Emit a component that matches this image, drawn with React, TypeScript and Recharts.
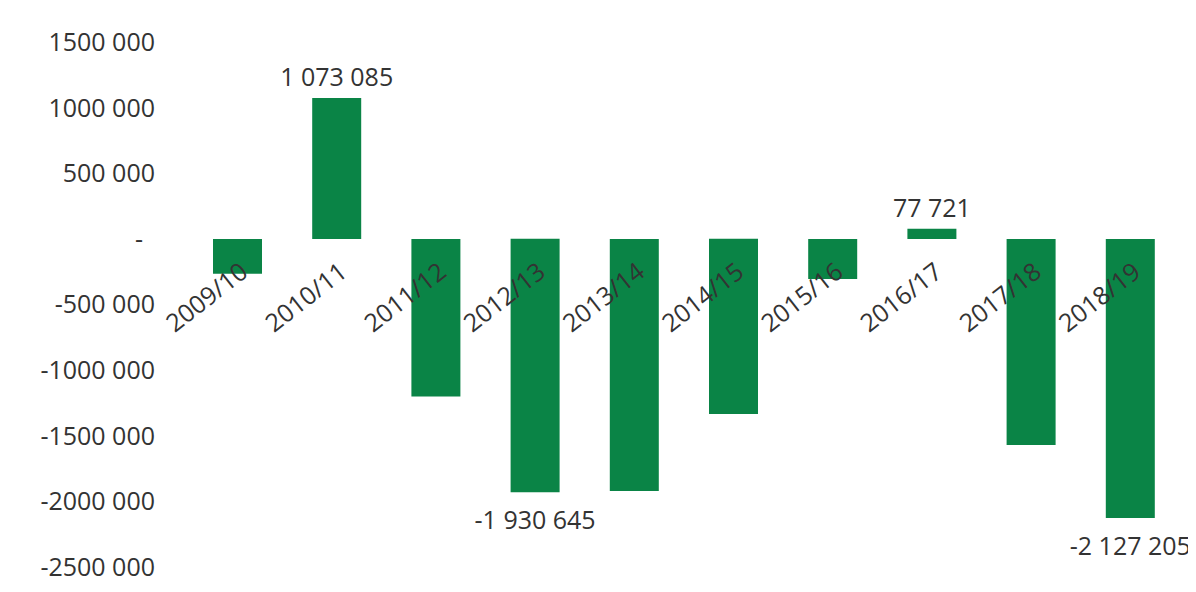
import { Bar, BarChart, Cell, LabelList, YAxis, XAxis } from 'recharts'

const years = ['2009/10', '2010/11', '2011/12', '2012/13', '2013/14', '2014/15', '2015/16', '2016/17', '2017/18', '2018/19']
const balances = [-265000, 1073085, -1200000, -1930645, -1920000, -1335000, -305000, 77721, -1570000, -2127205]
const shownLabels = [false, true, false, true, false, false, false, true, false, true]
const yTicks = [-2500000, -2000000, -1500000, -1000000, -500000, 0, 500000, 1000000, 1500000]

const data = years.map((year, i) => ({
  year,
  value: balances[i],
  show: shownLabels[i],
}))

const GREEN = '#0a8446'
const TEXT = '#333333'
const FONT = '"Open Sans", sans-serif'
const FS = 25

// axis style: 1500 000 (only the last group is split off)
const formatTick = (v: number) => {
  if (v === 0) return '-'
  const sign = v < 0 ? '-' : ''
  const a = Math.abs(v)
  const head = Math.floor(a / 1000)
  const tail = String(a % 1000).padStart(3, '0')
  return `${sign}${head} ${tail}`
}

// label style: 1 073 085
const formatValue = (v: number) => {
  const sign = v < 0 ? '-' : ''
  return sign + String(Math.abs(v)).replace(/\B(?=(\d{3})+(?!\d))/g, ' ')
}

const rectOf = (props: any) => {
  const vb = props.viewBox ?? {}
  const x = Number(props.x ?? vb.x)
  const y = Number(props.y ?? vb.y)
  const w = Number(props.width ?? vb.width)
  const h = Number(props.height ?? vb.height)
  return { x, w, top: Math.min(y, y + h), bottom: Math.max(y, y + h) }
}

const YTick = (props: any) => {
  const { x, y, payload } = props
  const v = payload.value
  return (
    <text
      x={v === 0 ? x - 12 : x}
      y={y}
      dy="0.355em"
      textAnchor="end"
      fill={TEXT}
      fontSize={FS}
      fontFamily={FONT}
    >
      {formatTick(v)}
    </text>
  )
}

const ValueLabel = (props: any) => {
  const { index, value } = props
  if (!data[index]?.show) return null
  const r = rectOf(props)
  const cx = r.x + r.w / 2
  const ty = value >= 0 ? r.top - 12 : r.bottom + 37
  return (
    <text x={cx} y={ty} textAnchor="middle" fill={TEXT} fontSize={FS} fontFamily={FONT}>
      {formatValue(value)}
    </text>
  )
}

const YearLabel = (props: any) => {
  const { index, value } = props
  const r = rectOf(props)
  const zero = data[index].value >= 0 ? r.bottom : r.top
  const ax = r.x + r.w / 2 + 12
  const ay = zero + 36
  return (
    <text
      x={ax}
      y={ay}
      textAnchor="end"
      transform={`rotate(-38 ${ax} ${ay})`}
      fill={TEXT}
      fontSize={FS}
      fontFamily={FONT}
    >
      {value}
    </text>
  )
}

export default function App() {
  return (
    <div style={{ width: 1180, height: 584, background: '#fff' }}>
      <style>{'.recharts-surface { overflow: visible; }'}</style>
      <BarChart
        width={1180}
        height={584}
        data={data}
        margin={{ top: 34, right: 8, bottom: 25, left: 0 }}
      >
        <XAxis dataKey="year" hide />
        <YAxis
          width={180}
          domain={[-2500000, 1500000]}
          ticks={yTicks}
          axisLine={false}
          tickLine={false}
          tickSize={0}
          tickMargin={33}
          interval={0}
          tick={<YTick />}
        />
        <Bar dataKey="value" barSize={49} fill={GREEN} isAnimationActive={false}>
          {data.map((d) => (
            <Cell key={d.year} fill={GREEN} />
          ))}
          <LabelList dataKey="value" content={ValueLabel} />
          <LabelList dataKey="year" content={YearLabel} />
        </Bar>
      </BarChart>
    </div>
  )
}
